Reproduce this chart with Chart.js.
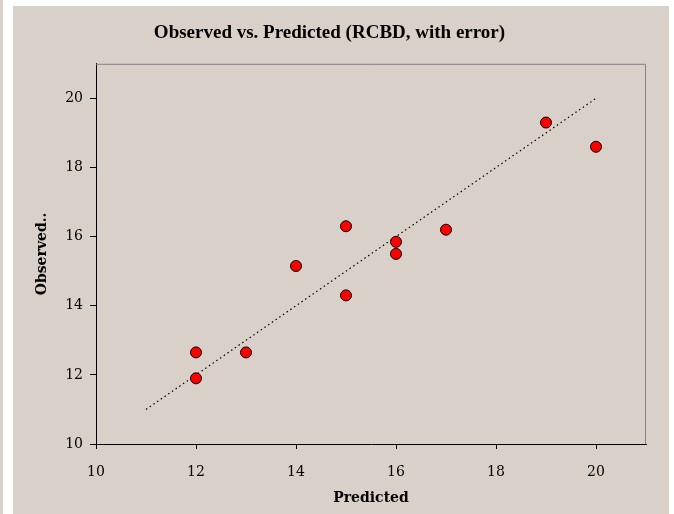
<!DOCTYPE html>
<html>
<head>
<meta charset="utf-8">
<script src="https://cdn.jsdelivr.net/npm/chart.js@4/dist/chart.umd.min.js"></script>
<style>
  html, body { margin: 0; padding: 0; background: #ffffff; }
  #page { position: relative; width: 674px; height: 514px; overflow: hidden; }
  #strip { position: absolute; left: 0; top: 0; width: 3px; height: 514px; background: #d8d0c9; }
  #panel { position: absolute; left: 13px; top: 6px; width: 656px; height: 508px; background: #d8d0c9; }
</style>
</head>
<body>
<div id="page">
  <div id="strip"></div>
  <div id="panel"><canvas id="c" width="656" height="508"></canvas></div>
</div>
<script>
// valores
const predicted = [12, 12, 13, 14, 15, 15, 16, 16, 17, 19, 20];
const observed  = [12.65, 11.9, 12.65, 15.15, 16.3, 14.3, 15.85, 15.5, 16.2, 19.3, 18.6];
const fitX = [11, 20];
const fitY = [11, 20];
const xTicks = [10, 12, 14, 16, 18, 20];
const yTicks = [10, 12, 14, 16, 18, 20];

const SERIF = '"DejaVu Serif", serif';
const TITLE_FONT = '"Liberation Serif", "Times New Roman", serif';

/* marco gris arriba y a la derecha */
const framePlugin = {
  id: 'frame',
  beforeDatasetsDraw(chart) {
    const { ctx, chartArea: a } = chart;
    ctx.save();
    ctx.strokeStyle = '#808080';
    ctx.lineWidth = 1;
    ctx.beginPath();
    ctx.moveTo(a.left, a.top + 0.5);
    ctx.lineTo(a.right - 0.5, a.top + 0.5);
    ctx.lineTo(a.right - 0.5, a.bottom);
    ctx.stroke();
    ctx.restore();
  },
};

const onlyTicks = (list) => (axis) => {
  axis.ticks = list.map((v) => ({ value: v }));
};

new Chart(document.getElementById('c'), {
  type: 'scatter',
  data: {
    datasets: [
      {
        data: predicted.map((x, i) => ({ x, y: observed[i] })),
        backgroundColor: '#ff0000',
        borderColor: '#000000',
        borderWidth: 1,
        pointRadius: 5.5,
      },
      {
        type: 'line',
        data: fitX.map((x, i) => ({ x, y: fitY[i] })),
        borderColor: '#000000',
        borderWidth: 1.2,
        borderDash: [1.5, 3],
        pointRadius: 0,
        fill: false,
      },
    ],
  },
  options: {
    responsive: false,
    animation: false,
    layout: { padding: { top: 0, right: 23, bottom: 0, left: 0 } },
    plugins: {
      legend: { display: false },
      tooltip: { enabled: false },
      title: {
        display: true,
        text: 'Observed vs. Predicted (RCBD, with error)',
        color: '#000000',
        font: { family: TITLE_FONT, size: 19, weight: 'bold' },
        padding: { top: 16, bottom: 19 },
      },
    },
    scales: {
      x: {
        type: 'linear', min: 10, max: 21,
        afterBuildTicks: onlyTicks(xTicks),
        afterFit: (s) => { s.height = 70; },
        grid: { drawOnChartArea: false, tickLength: 5, color: '#000000' },
        border: { color: '#000000', width: 1 },
        ticks: { color: '#000000', padding: 15, font: { family: SERIF, size: 14 } },
        title: { display: true, text: 'Predicted', color: '#000000',
                 font: { family: SERIF, size: 14, weight: 'bold' }, padding: { top: 0, bottom: 7 } },
      },
      y: {
        type: 'linear', min: 10, max: 21,
        afterBuildTicks: onlyTicks(yTicks),
        afterFit: (s) => { s.width = 83; },
        grid: { drawOnChartArea: false, tickLength: 6, color: '#000000' },
        border: { color: '#000000', width: 1 },
        ticks: { color: '#000000', padding: 7, font: { family: SERIF, size: 14 } },
        title: { display: true, text: 'Observed..', color: '#000000',
                 font: { family: SERIF, size: 14, weight: 'bold' }, padding: { top: 21, bottom: 0 } },
      },
    },
  },
  plugins: [framePlugin],
});
</script>
</body>
</html>
